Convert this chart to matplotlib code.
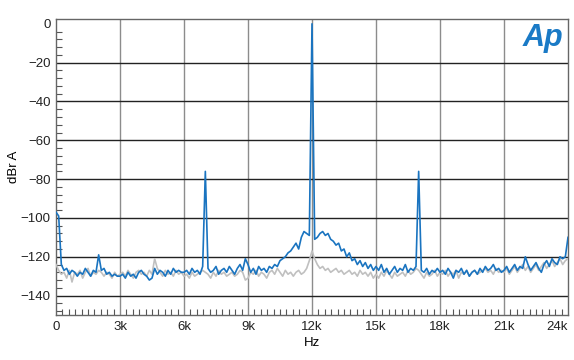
import numpy as np
import matplotlib.pyplot as plt
from matplotlib.ticker import MultipleLocator, FuncFormatter

plt.rcParams['font.family'] = ['Liberation Sans', 'DejaVu Sans']

# frequency grid, 125 Hz bins from 0 to 24 kHz
freq = np.arange(0, 24001, 125)

# blue trace (with tones), dBr A, one list per 3 kHz span
blue_0_3k = [-97, -99, -124, -127, -126, -129, -127, -128, -130, -128, -129, -126,
             -128, -130, -127, -128, -119, -127, -126, -129, -128, -130, -129, -130]
blue_3_6k = [-130, -129, -131, -128, -130, -129, -131, -128, -127, -129, -130, -132,
             -131, -126, -129, -127, -128, -130, -127, -129, -126, -128, -127, -128]
blue_6_9k = [-128, -127, -129, -126, -128, -127, -129, -125, -76, -126, -128, -127,
             -125, -129, -127, -126, -128, -125, -127, -129, -126, -124, -127, -121]
blue_9_12k = [-124, -128, -126, -129, -125, -127, -126, -128, -125, -126, -124, -125,
              -122, -121, -120, -118, -117, -115, -113, -116, -110, -107, -108, -109]
blue_12_15k = [0, -111, -110, -108, -107, -109, -108, -111, -112, -114, -113, -117,
               -116, -120, -118, -122, -121, -124, -122, -125, -123, -126, -124, -127]
blue_15_18k = [-125, -127, -124, -128, -126, -129, -127, -125, -128, -126, -127, -124,
               -128, -126, -127, -125, -76, -127, -128, -126, -129, -127, -128, -126]
blue_18_21k = [-128, -127, -129, -126, -128, -131, -127, -128, -126, -129, -127, -130,
               -128, -127, -129, -126, -128, -125, -127, -126, -124, -127, -126, -128]
blue_21_24k = [-127, -125, -128, -126, -124, -127, -125, -126, -120, -124, -127, -125,
               -123, -126, -128, -124, -122, -125, -121, -123, -124, -120, -121, -120, -110]

# grey trace (reference), dBr A
grey_0_3k = [-124, -127, -129, -128, -131, -127, -133, -128, -129, -127, -131, -128,
             -126, -130, -128, -129, -127, -128, -130, -128, -129, -131, -128, -130]
grey_3_6k = [-129, -128, -130, -127, -129, -131, -128, -127, -129, -128, -130, -127,
             -129, -121, -126, -128, -130, -127, -129, -128, -130, -127, -129, -128]
grey_6_9k = [-130, -129, -131, -128, -130, -129, -128, -127, -128, -129, -131, -128,
             -130, -127, -129, -128, -130, -129, -128, -130, -129, -127, -128, -132]
grey_9_12k = [-131, -128, -129, -127, -130, -128, -129, -131, -128, -127, -129, -126,
              -128, -130, -127, -129, -128, -130, -128, -127, -129, -128, -126, -122]
grey_12_15k = [-117, -121, -124, -126, -125, -127, -126, -128, -127, -126, -128, -127,
               -129, -128, -127, -129, -128, -130, -127, -129, -128, -130, -128, -131]
grey_15_18k = [-129, -131, -128, -130, -127, -129, -131, -128, -130, -129, -128, -130,
               -127, -129, -128, -126, -127, -129, -131, -128, -130, -129, -127, -130]
grey_18_21k = [-128, -129, -127, -130, -128, -129, -127, -131, -128, -129, -127, -130,
               -128, -127, -129, -128, -127, -126, -128, -127, -129, -126, -128, -127]
grey_21_24k = [-128, -126, -129, -127, -125, -128, -126, -124, -127, -125, -128, -126,
               -124, -127, -125, -123, -126, -124, -122, -125, -123, -121, -124, -122, -121]

blue = (blue_0_3k + blue_3_6k + blue_6_9k + blue_9_12k +
        blue_12_15k + blue_15_18k + blue_18_21k + blue_21_24k)
grey = (grey_0_3k + grey_3_6k + grey_6_9k + grey_9_12k +
        grey_12_15k + grey_15_18k + grey_18_21k + grey_21_24k)

x_ticks = [0, 3000, 6000, 9000, 12000, 15000, 18000, 21000, 24000]
x_labels = ['0', '3k', '6k', '9k', '12k', '15k', '18k', '21k', '24k']
y_ticks = [0, -20, -40, -60, -80, -100, -120, -140]

fig = plt.figure(figsize=(5.74, 3.6), dpi=100)
ax = fig.add_axes([56 / 574, 45 / 360, 512 / 574, 296 / 360])

ax.plot(freq, grey, color='#c0c0c0', lw=1.2, zorder=3)
ax.plot(freq, blue, color='#1a74c0', lw=1.2, zorder=4)

ax.set_xlim(0, 24000)
ax.set_ylim(-150, 2.5)

ax.set_xticks(x_ticks)
ax.set_xticklabels(x_labels)
ax.set_yticks(y_ticks)
ax.yaxis.set_major_formatter(FuncFormatter(lambda v, p: f'{int(v)}'.replace('-', '\u2212')))
ax.xaxis.set_minor_locator(MultipleLocator(300))
ax.yaxis.set_minor_locator(MultipleLocator(4))

ax.tick_params(which='major', length=0, labelsize=9.5, pad=4, colors='#222222')
ax.tick_params(which='minor', direction='in', length=4.5, width=0.8, color='#555555')
# last label sits inside the frame, right-aligned
ax.get_xticklabels()[-1].set_horizontalalignment('right')

for v in x_ticks[1:-1]:
    ax.axvline(v, color='#8c8c8c', lw=1, zorder=1)
for v in y_ticks[1:]:
    ax.axhline(v, color='#222222', lw=1, zorder=1)

for s in ax.spines.values():
    s.set_color('#666666')
    s.set_linewidth(1)

ax.set_xlabel('Hz', fontsize=9.5, labelpad=3)
ax.set_ylabel('dBr A', fontsize=9.5, labelpad=0)

fig.text(0.981, 0.895, 'Ap', color='#1a7ac6', fontsize=22, fontweight='bold',
         fontstyle='italic', ha='right', va='center')

fig.savefig('out.png', dpi=100)
